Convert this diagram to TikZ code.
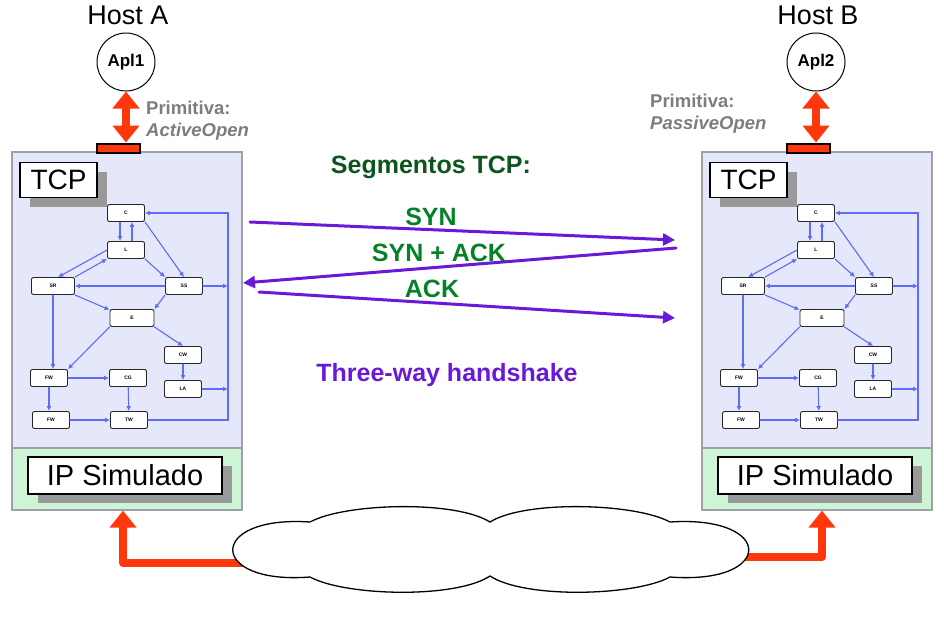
\documentclass[tikz,border=0pt]{standalone}
\usepackage{fontspec}
\setmainfont{Liberation Sans}
\usetikzlibrary{arrows.meta,shadows}

\definecolor{tcpfill}{RGB}{229,231,251}
\definecolor{ipfill}{RGB}{205,245,213}
\definecolor{boxgray}{RGB}{160,160,170}
\definecolor{edgeblue}{RGB}{95,108,245}
\definecolor{redarrow}{RGB}{255,55,10}
\definecolor{purplearr}{RGB}{105,25,215}
\definecolor{darkgreen}{RGB}{12,85,30}
\definecolor{syngreen}{RGB}{5,130,40}
\definecolor{primgray}{RGB}{125,125,125}

\begin{document}
\begin{tikzpicture}
  [x=1pt,y=-1pt,line cap=round,
   % Styles
   capa/.style={draw=boxgray,line width=1.2pt,minimum width=230pt,inner sep=0pt},
   etiqueta/.style={draw=black,fill=white,line width=1.3pt,inner sep=0pt,
     drop shadow={shadow xshift=10pt,shadow yshift=-9pt,fill=black!40,opacity=1}},
   estado/.style={draw=black!85,fill=white,rounded corners=2pt,line width=0.9pt,
     minimum width=37pt,minimum height=17pt,inner sep=0pt,
     font=\bfseries\fontsize{5}{5}\selectfont},
   trans/.style={draw=edgeblue,line width=1.1pt,-{Latex[length=5pt,width=5pt]}},
   rojo/.style={draw=redarrow,line width=8pt,line join=round},
   segmento/.style={draw=purplearr,line width=3pt,-{Triangle[length=12pt,width=12pt]}},
   prim/.style={align=left,inner sep=0pt,text=primgray,
     font=\bfseries\fontsize{18.5}{22}\selectfont},
   verde/.style={inner sep=0pt,text=syngreen,font=\bfseries\fontsize{25}{25}\selectfont}]

  \useasboundingbox (0,0) rectangle (944,622);

  % The two hosts
  \foreach \h/\dx/\n/\H in {a/0/1/A,b/690/2/B} {
    \begin{scope}[xshift=\dx pt]
      \node[font=\fontsize{27}{27}\selectfont,inner sep=0pt] (\h-host) at (128,15) {Host \H};
      \node[circle,draw,line width=1pt,minimum size=58pt,inner sep=0pt,
        font=\bfseries\fontsize{17}{17}\selectfont] (\h-apl) at (126,62) {Apl\n};

      \node[capa,fill=tcpfill,minimum height=296pt] (\h-tcp) at (127,300) {};
      \node[capa,fill=ipfill,minimum height=62pt] (\h-ip) at (127,479) {};
      \node[etiqueta,minimum width=77pt,minimum height=35pt,
        font=\fontsize{28}{28}\selectfont] (\h-tcplbl) at (58.5,180) {TCP};
      \node[etiqueta,minimum width=194pt,minimum height=37pt,
        font=\fontsize{29}{29}\selectfont] (\h-iplbl) at (125,475.5) {IP Simulado};

      \node[draw=black,fill=redarrow,line width=2pt,minimum width=43pt,
        minimum height=9pt,inner sep=0pt] (\h-bar) at (118,148) {};
      \draw[rojo,{Triangle[length=17pt,width=26pt]}-{Triangle[length=17pt,width=26pt]}]
        (\h-apl.south) -- (\h-apl.south |- \h-bar.north);

      % State machine
      \node[estado] (\h-c) at (126,213) {C};
      \node[estado] (\h-l) at (126,250) {L};
      \node[estado,minimum width=43pt] (\h-sr) at (53,286) {SR};
      \node[estado] (\h-ss) at (184,286) {SS};
      \node[estado,minimum width=44pt] (\h-e) at (132,318) {E};
      \node[estado] (\h-cw) at (183,355) {CW};
      \node[estado] (\h-la) at (183,389) {LA};
      \node[estado] (\h-fw1) at (49,378) {FW};
      \node[estado] (\h-cg) at (128,378) {CG};
      \node[estado] (\h-fw2) at (51,420) {FW};
      \node[estado] (\h-tw) at (129,420) {TW};
      \coordinate (\h-r) at (228,213);

      \draw[trans] ([xshift=-6pt]\h-c.south) -- ([xshift=-6pt]\h-l.north);
      \draw[trans] ([xshift=6pt]\h-l.north) -- ([xshift=6pt]\h-c.south);
      \draw[trans] (\h-l.west) -- (\h-sr.60);
      \draw[trans] (\h-sr.north east) -- (\h-l.south west);
      \draw[trans] (\h-c.south east) -- (\h-ss.north);
      \draw[trans] (\h-l.south east) -- (\h-ss.north west);
      \draw[trans] (\h-ss.west) -- (\h-sr.east);
      \draw[trans] (\h-sr.south east) -- (\h-e.160);
      \draw[trans] (\h-ss.south west) -- (\h-e.north east);
      \draw[trans] (\h-sr.south) -- (\h-sr.south |- \h-fw1.north);
      \draw[trans] (\h-e.south west) -- (\h-fw1.north east);
      \draw[trans] (\h-e.south east) -- (\h-cw.north);
      \draw[trans] (\h-cw) -- (\h-la);
      \draw[trans] (\h-fw1) -- (\h-cg);
      \draw[trans] (\h-fw1.south) -- (\h-fw1.south |- \h-fw2.north);
      \draw[trans] (\h-cg) -- (\h-tw);
      \draw[trans] (\h-fw2) -- (\h-tw);
      \draw[trans] (\h-tw.east) -| (\h-r) -- (\h-c.east);
      \draw[trans] (\h-ss.east) -- (\h-ss.east -| \h-r);
      \draw[trans] (\h-la.east) -- (\h-la.east -| \h-r);
    \end{scope}
  }

  \node[prim,anchor=west] (a-prim) at (146,121) {Primitiva:\\\textit{ActiveOpen}};
  \node[prim,anchor=west] (b-prim) at (650,114) {Primitiva:\\\textit{PassiveOpen}};

  % The network
  \coordinate (cl-w) at (250,563);
  \coordinate (cl-e) at (735,557);
  \draw[rojo,-{Triangle[length=17pt,width=26pt]}] (cl-w) -| ([xshift=-4pt]a-ip.south);
  \draw[rojo,-{Triangle[length=17pt,width=26pt]}] (cl-e) -| ([xshift=5pt]b-ip.south);

  \draw[fill=white,line width=1.3pt] (310,522)
    .. controls (345,503) and (455,500) .. (490,522)
    .. controls (525,500) and (635,503) .. (670,522)
    .. controls (775,515) and (775,585) .. (670,577)
    .. controls (635,596) and (525,599) .. (490,576)
    .. controls (455,599) and (345,596) .. (310,577)
    .. controls (207,585) and (207,515) .. (310,522) -- cycle;

  % The segments
  \coordinate (syn-a) at (250,222);
  \coordinate (syn-b) at (675,240);
  \coordinate (sa-b) at (676,248);
  \coordinate (sa-a) at (243,283);
  \coordinate (ack-a) at (259,292);
  \coordinate (ack-b) at (675,318);
  \draw[segmento] (syn-a) -- (syn-b);
  \draw[segmento] (sa-b) -- (sa-a);
  \draw[segmento] (ack-a) -- (ack-b);

  \node[verde,text=darkgreen] (titulo) at (431,167) {Segmentos TCP:};
  \node[verde] (t-syn) at (431,217) {SYN};
  \node[verde] (t-synack) at (439,253) {SYN + ACK};
  \node[verde] (t-ack) at (432,289) {ACK};
  \node[verde,text=purplearr] (t-hand) at (447,375) {Three-way handshake};
\end{tikzpicture}
\end{document}
